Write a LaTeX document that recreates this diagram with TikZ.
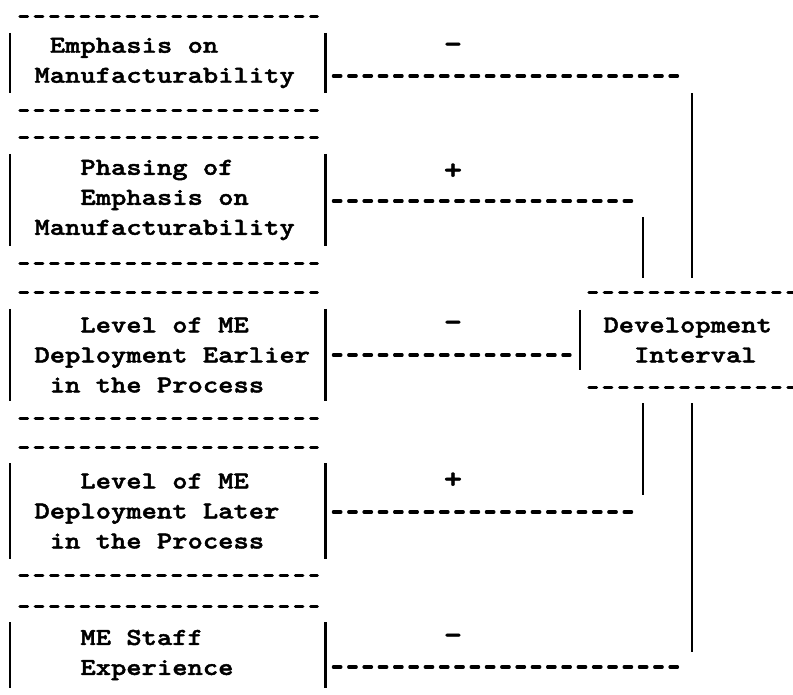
\documentclass[tikz,border=0pt]{standalone}
\usepackage{fontspec}
\newfontface\tw{lmmonolt10-bold.otf}[FakeStretch=1.2, FakeBold=1.8]
\newcommand\indt[1]{\hphantom{#1}}
\begin{document}
\begin{tikzpicture}[x=1pt,y=-1pt,
  typed/.style={font=\tw\fontsize{24.3}{30}\selectfont,
    execute at begin node={\spaceskip=15.31pt\relax}},
  card/.style={typed, rectangle, inner xsep=9pt, inner ysep=0pt,
    text width=297pt, minimum height=#1, align=left, anchor=west},
  card/.default=60pt,
  bar/.style={line width=2.7pt},
  hy/.style={line width=3.2pt, line cap=round, dash pattern=on 7.5pt off 7.8pt},
  link/.style={hy},
  wire/.style={line width=2.8pt},
  sign/.style={font=\tw\fontsize{29}{30}\selectfont, inner sep=0pt, anchor=base},
]
\useasboundingbox (0,0) rectangle (793,694);

% input factor boxes
\node[card=60pt] (b1) at (10,63)  {\indt{xx}Emphasis on\\\indt{x}Manufacturability};
\node[card=92pt] (b2) at (10,200) {\indt{xxxx}Phasing of\\\indt{xxxx}Emphasis on\\\indt{x}Manufacturability};
\node[card=92pt] (b3) at (10,355) {\indt{xxxx}Level of ME\\\indt{x}Deployment Earlier\\\indt{xx}in the Process};
\node[card=95pt] (b4) at (10,511) {\indt{xxxx}Level of ME\\\indt{x}Deployment Later\\\indt{xx}in the Process};
\node[card=65pt] (b5) at (10,655) {\indt{xxxx}ME Staff\\\indt{xxxx}Experience};

% outcome box
\node[typed, rectangle, inner xsep=8pt, inner ysep=0pt, text width=205pt,
  minimum height=60pt, align=left, anchor=west] (d) at (580,340)
  {\indt{x}Development\\\indt{xxx}Interval};

% box sides and typed rules
\foreach \b in {b1,b2,b3,b4,b5} {
  \draw[bar] (\b.north west) -- (\b.south west);
  \draw[bar] (\b.north east) -- (\b.south east);
  \draw[hy] ([shift={(10pt,16pt)}]\b.north west) -- ([shift={(-8pt,16pt)}]\b.north east);
}
\foreach \b in {b1,b2,b3,b4} {
  \draw[hy] ([shift={(10pt,-17pt)}]\b.south west) -- ([shift={(-8pt,-17pt)}]\b.south east);
}
\draw[bar] (d.north west) -- (d.south west);
\draw[hy] ([shift={(9pt,17pt)}]d.north west) -- ([shift={(0pt,17pt)}]d.north east);
\draw[hy] ([shift={(9pt,-17pt)}]d.south west) -- ([shift={(0pt,-17pt)}]d.south east);

% joints of the connectors
\coordinate (j1) at (682,76);
\coordinate (j2) at (633,201);
\coordinate (j3) at (570,355);
\coordinate (j4) at (633,512);
\coordinate (j5) at (682,667);
\coordinate (u1) at (692,93);
\coordinate (t1) at (692,278);
\coordinate (u2) at (643,217);
\coordinate (t2) at (643,278);
\coordinate (t3) at (643,403);
\coordinate (u3) at (643,495);
\coordinate (t4) at (692,403);
\coordinate (u4) at (692,652);

% connectors
\draw[link] ([shift={(8pt,-13pt)}]b1.east) -- (j1);
\draw[link] ([shift={(8pt,-1pt)}]b2.east) -- (j2);
\draw[link] ([shift={(8pt,0pt)}]b3.east) -- (j3);
\draw[link] ([shift={(8pt,-1pt)}]b4.east) -- (j4);
\draw[link] ([shift={(8pt,-12pt)}]b5.east) -- (j5);
\draw[wire] (u1) -- (t1);
\draw[wire] (u2) -- (t2);
\draw[wire] (t3) -- (u3);
\draw[wire] (t4) -- (u4);

% signs of the effects
\node[sign] (s1) at (453,53)  {-};
\node[sign] (s2) at (453,179) {+};
\node[sign] (s3) at (453,331) {-};
\node[sign] (s4) at (453,488) {+};
\node[sign] (s5) at (453,644) {-};
\end{tikzpicture}
\end{document}
